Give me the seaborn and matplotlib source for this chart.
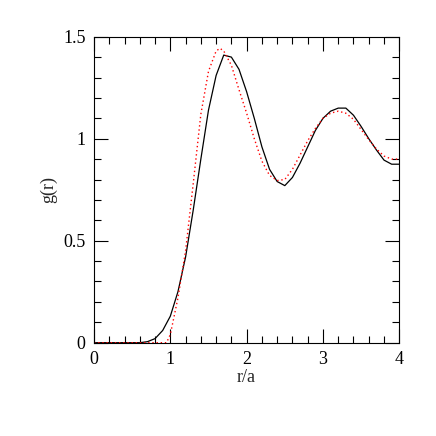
import numpy as np
import pandas as pd
import matplotlib
matplotlib.use("Agg")
import matplotlib.pyplot as plt
from matplotlib.ticker import MultipleLocator, FormatStrFormatter
import seaborn as sns

# Black solid curve (r step 0.1)
r_black = [0.0, 0.1, 0.2, 0.3, 0.4, 0.5, 0.6, 0.7, 0.8, 0.9,
           1.0, 1.1, 1.2, 1.3, 1.4, 1.5, 1.6, 1.7, 1.8, 1.9,
           2.0, 2.1, 2.2, 2.3, 2.4, 2.5, 2.6, 2.7, 2.8, 2.9,
           3.0, 3.1, 3.2, 3.3, 3.4, 3.5, 3.6, 3.7, 3.8, 3.9, 4.0]
g_black = [0.0, 0.0, 0.0, 0.0, 0.0, 0.0, 0.0, 0.005, 0.02, 0.06,
           0.13, 0.25, 0.42, 0.65, 0.90, 1.14, 1.31, 1.41, 1.40, 1.34,
           1.23, 1.10, 0.96, 0.85, 0.79, 0.77, 0.81, 0.88, 0.96, 1.04,
           1.10, 1.135, 1.15, 1.15, 1.115, 1.06, 1.00, 0.945, 0.895, 0.875, 0.875]

# Red dotted curve
r_red = [0.0, 0.1, 0.2, 0.3, 0.4, 0.5, 0.6, 0.7, 0.8, 0.9, 0.95,
         1.0, 1.1, 1.2, 1.3, 1.4, 1.5, 1.6, 1.65, 1.7, 1.8, 1.9,
         2.0, 2.1, 2.2, 2.3, 2.4, 2.5, 2.6, 2.7, 2.8, 2.9,
         3.0, 3.1, 3.2, 3.3, 3.4, 3.5, 3.6, 3.7, 3.8, 3.9, 4.0]
g_red = [0.0, 0.0, 0.0, 0.0, 0.0, 0.0, 0.0, 0.0, 0.0, 0.0, 0.0,
         0.04, 0.22, 0.45, 0.78, 1.12, 1.33, 1.43, 1.443, 1.43, 1.36, 1.24,
         1.125, 1.00, 0.89, 0.82, 0.795, 0.80, 0.85, 0.92, 0.99, 1.05,
         1.10, 1.125, 1.135, 1.125, 1.095, 1.045, 0.995, 0.95, 0.915, 0.90, 0.90]

sns.set_style("ticks")
plt.rcParams['font.family'] = ['Liberation Serif', 'DejaVu Serif']

fig = plt.figure(figsize=(4.36, 4.36), dpi=100)
ax = fig.add_axes([0.2156, 0.214, 0.7002, 0.7018])

df_b = pd.DataFrame({"r": r_black, "g": g_black})
df_r = pd.DataFrame({"r": r_red, "g": g_red})
sns.lineplot(data=df_b, x="r", y="g", ax=ax, color="black", lw=0.9, estimator=None)
sns.lineplot(data=df_r, x="r", y="g", ax=ax, color="red", lw=1.0, estimator=None,
             linestyle=(0, (1, 2)))

ax.set_xlim(0, 4)
ax.set_ylim(0, 1.5)
ax.xaxis.set_major_locator(MultipleLocator(1))
ax.xaxis.set_minor_locator(MultipleLocator(0.2))
ax.yaxis.set_major_locator(MultipleLocator(0.5))
ax.yaxis.set_minor_locator(MultipleLocator(0.1))
ax.yaxis.set_major_formatter(FormatStrFormatter('%g'))
ax.xaxis.set_major_formatter(FormatStrFormatter('%g'))
ax.tick_params(which='both', direction='in', top=True, right=True, colors='black',
               width=0.8, labelsize=13)
ax.tick_params(which='major', length=10, pad=6)
ax.tick_params(which='minor', length=5)
for s in ax.spines.values():
    s.set_linewidth(0.8)
    s.set_color('black')
    s.set_visible(True)

ax.set_xlabel("r/a", fontsize=13, labelpad=1)
ax.set_ylabel("g(r)", fontsize=13, labelpad=4)

fig.savefig("out.png", dpi=100)
